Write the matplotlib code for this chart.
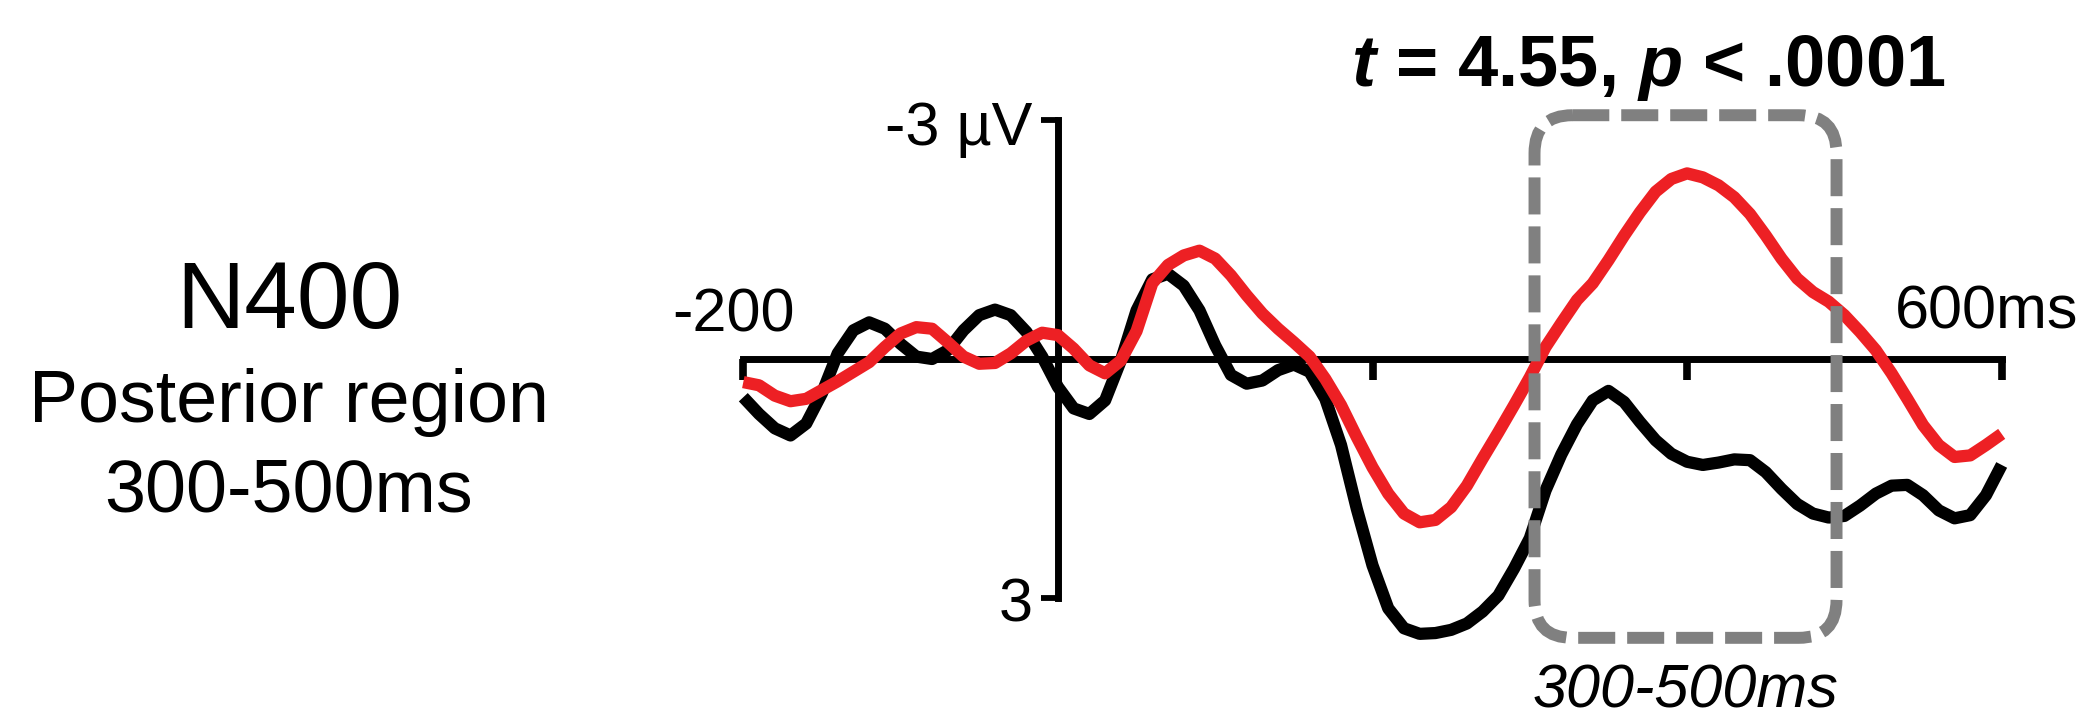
import matplotlib
matplotlib.use('Agg')
import matplotlib.pyplot as plt
from matplotlib.patches import FancyBboxPatch

plt.rcParams['font.family'] = ['Liberation Sans', 'DejaVu Sans']
plt.rcParams['mathtext.fontset'] = 'custom'
plt.rcParams['mathtext.rm'] = 'Liberation Sans:bold'
plt.rcParams['mathtext.bfit'] = 'Liberation Sans:italic:bold'

# time points (ms) and ERP amplitudes (uV), negative plotted up
times = list(range(-200, 601, 10))
black_uv = [0.48, 0.69, 0.87, 0.96, 0.81, 0.43, -0.07, -0.36, -0.46, -0.38,
            -0.19, -0.03, 0.00, -0.11, -0.36, -0.55, -0.62, -0.55, -0.34, -0.03,
            0.35, 0.62, 0.69, 0.52, 0.02, -0.61, -1.00, -1.07, -0.92, -0.61,
            -0.17, 0.20, 0.31, 0.27, 0.14, 0.07, 0.16, 0.50, 1.08, 1.88,
            2.59, 3.13, 3.38, 3.45, 3.44, 3.40, 3.32, 3.17, 2.97, 2.63,
            2.25, 1.65, 1.20, 0.82, 0.52, 0.40, 0.54, 0.79, 1.02, 1.19,
            1.29, 1.33, 1.30, 1.26, 1.27, 1.42, 1.63, 1.82, 1.94, 1.99,
            1.97, 1.84, 1.69, 1.59, 1.58, 1.71, 1.90, 2.00, 1.96, 1.71,
            1.33]
red_uv = [0.29, 0.33, 0.46, 0.53, 0.50, 0.39, 0.28, 0.16, 0.04, -0.15,
          -0.32, -0.40, -0.38, -0.21, -0.03, 0.06, 0.05, -0.07, -0.23, -0.33,
          -0.30, -0.13, 0.08, 0.18, 0.02, -0.35, -0.95, -1.18, -1.30, -1.36,
          -1.26, -1.05, -0.80, -0.57, -0.38, -0.21, -0.03, 0.25, 0.58, 0.98,
          1.36, 1.69, 1.94, 2.05, 2.02, 1.86, 1.59, 1.25, 0.92, 0.58,
          0.23, -0.15, -0.45, -0.74, -0.95, -1.24, -1.55, -1.84, -2.10, -2.26,
          -2.33, -2.28, -2.18, -2.03, -1.82, -1.55, -1.26, -1.01, -0.84, -0.72,
          -0.55, -0.34, -0.11, 0.18, 0.50, 0.83, 1.08, 1.23, 1.21, 1.08,
          0.94]

x_ticks = [-200, 200, 400, 600]
y_ticks = [-3, 3]
box_left, box_right = 303, 495
box_top, box_bottom = -3.06, 3.50

fig = plt.figure(figsize=(20.77, 7.27), dpi=100)
ax = fig.add_axes([743.3 / 2077, 1 - 598 / 727, (2001.7 - 743.3) / 2077, 478 / 727])
ax.set_xlim(-200, 600)
ax.set_ylim(3, -3)
ax.axis('off')

# axes drawn by hand
axis_kw = dict(color='black', lw=5, solid_capstyle='projecting', clip_on=False, zorder=2)
ax.plot([-200, 600], [0, 0], **axis_kw)
ax.plot([0, 0], [-3, 3], **axis_kw)
for t in x_ticks:
    ax.plot([t, t], [0, 0.26], color='black', lw=5.5, solid_capstyle='butt', clip_on=False, zorder=2)
for v in y_ticks:
    ax.plot([-11, 0], [v, v], color='black', lw=4.2, solid_capstyle='butt', clip_on=False, zorder=2)

# waveforms
ax.plot(times, black_uv, color='black', lw=8.8, solid_joinstyle='round',
        solid_capstyle='butt', clip_on=False, zorder=3)
ax.plot(times, red_uv, color='#ED2024', lw=8.8, solid_joinstyle='round',
        solid_capstyle='butt', clip_on=False, zorder=4)

# dashed time window
box = FancyBboxPatch((box_left, box_top), box_right - box_left, box_bottom - box_top,
                     boxstyle='round,pad=0,rounding_size=24', mutation_aspect=0.0199,
                     fill=False, edgecolor='#808080', lw=8.6, linestyle=(0, (3.1, 1.0)),
                     capstyle='butt', clip_on=False, zorder=5)
ax.add_patch(box)

# labels
ax.text(-16, -2.69, '-3 µV', fontsize=44, ha='right', va='baseline', clip_on=False)
ax.text(-16, 3.29, '3', fontsize=44, ha='right', va='baseline', clip_on=False)
ax.text(-167.5, -0.35, '-200', fontsize=44, ha='right', va='baseline', clip_on=False)
ax.text(532, -0.38, '600ms', fontsize=44, ha='left', va='baseline', clip_on=False)
ax.text(399, 4.37, '300-500ms', fontsize=44, style='italic', ha='center', va='baseline', clip_on=False)
ax.text(375, -3.43, r'$\mathbfit{t}$ = 4.55, $\mathbfit{p}$ < .0001', fontsize=52,
        fontweight='bold', ha='center', va='baseline', clip_on=False)

fig.text(289 / 2077, 1 - 328 / 727, 'N400', fontsize=68, ha='center', va='baseline')
fig.text(289 / 2077, 1 - 422 / 727, 'Posterior region', fontsize=53, ha='center', va='baseline')
fig.text(289 / 2077, 1 - 512 / 727, '300-500ms', fontsize=53, ha='center', va='baseline')

fig.savefig('out.png', dpi=100, facecolor='white')
